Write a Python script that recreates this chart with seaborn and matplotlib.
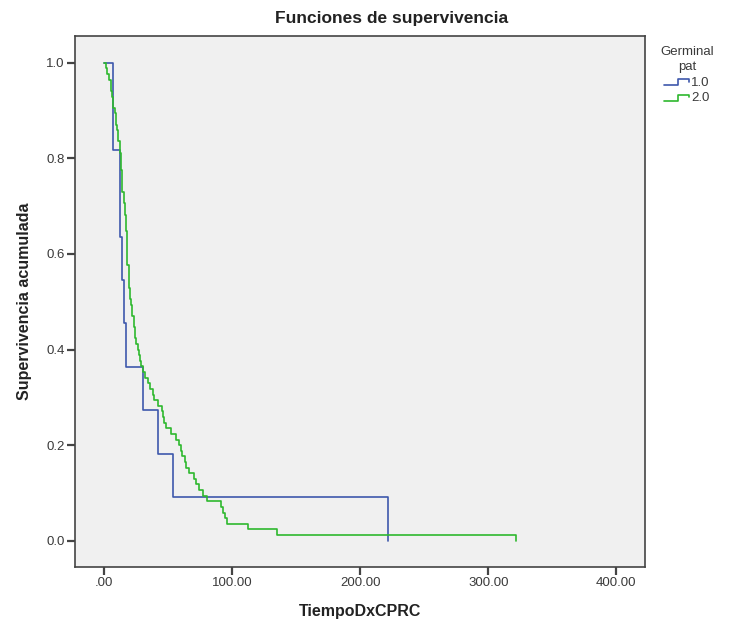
import numpy as np
import pandas as pd
import matplotlib
matplotlib.use("Agg")
import matplotlib.pyplot as plt
import seaborn as sns
from matplotlib.legend_handler import HandlerLine2D
from matplotlib.lines import Line2D

# ---------------- data ----------------
group_labels = ["1.0", "2.0"]
times_g1 = [7, 7, 12, 12, 14, 15, 17, 30, 42, 54, 222]
times_g2 = [1, 2, 4, 5, 5, 6, 7, 7, 8, 9, 9, 10, 11, 11, 12, 12, 13, 13, 13,
            14, 14, 14, 14, 15, 15, 16, 16, 17, 17, 17,
            18, 18, 18, 18, 18, 18, 19, 19, 19, 19, 20, 20, 21, 22, 22,
            23, 23, 24, 24, 25, 26, 27, 28, 29, 30, 32, 34, 36, 38, 39,
            42, 45, 46, 47, 48, 52, 56, 58, 60, 61, 63, 64, 66, 70, 72,
            74, 77, 80, 91, 93, 94, 96, 112, 135, 322]
line_colors = ["#3E58AC", "#2EB82E"]
x_ticks = [0, 100, 200, 300, 400]
x_tick_labels = [".00", "100.00", "200.00", "300.00", "400.00"]
y_ticks = [0.0, 0.2, 0.4, 0.6, 0.8, 1.0]
y_tick_labels = ["0.0", "0.2", "0.4", "0.6", "0.8", "1.0"]


def km_steps(times):
    t = np.sort(np.asarray(times, dtype=float))
    n = len(t)
    xs, ys = [0.0], [1.0]
    uniq, counts = np.unique(t, return_counts=True)
    at_risk, s = n, 1.0
    for u, c in zip(uniq, counts):
        s *= (at_risk - c) / at_risk
        at_risk -= c
        xs.append(u)
        ys.append(s)
    return xs, ys


frames = []
for lab, tt in zip(group_labels, [times_g1, times_g2]):
    xs, ys = km_steps(tt)
    frames.append(pd.DataFrame({"t": xs, "s": ys, "g": lab,
                                "order": range(len(xs))}))
df = pd.concat(frames, ignore_index=True)

# ---------------- styling ----------------
sns.set_style("ticks")
plt.rcParams["font.family"] = ["Liberation Sans", "DejaVu Sans"]

fig = plt.figure(figsize=(7.31, 6.30), dpi=100)
ax = fig.add_axes([75 / 731, 1 - 567 / 630, 570 / 731, 531 / 630])
ax.set_facecolor("#F0F0F0")

sns.lineplot(data=df, x="t", y="s", hue="g", hue_order=group_labels,
             palette=line_colors, estimator=None, sort=False,
             drawstyle="steps-post", linewidth=1.2, ax=ax, legend=False)

ax.set_xlim(-22.9, 422.4)
ax.set_ylim(-0.055, 1.056)
ax.set_xticks(x_ticks)
ax.set_xticklabels(x_tick_labels)
ax.set_yticks(y_ticks)
ax.set_yticklabels(y_tick_labels)
ax.tick_params(axis="both", direction="out", length=5.8, width=1.6,
               color="#444444", labelsize=9.5, labelcolor="#3a3a3a", pad=1.5)
for sp in ax.spines.values():
    sp.set_visible(True)
    sp.set_color("#444444")
    sp.set_linewidth(1.2)

ax.set_xlabel("TiempoDxCPRC", fontsize=11.5, fontweight="bold",
              color="#222222", labelpad=11)
ax.set_ylabel("Supervivencia acumulada", fontsize=11.5, fontweight="bold",
              color="#222222", labelpad=10)
fig.text(392 / 731, 1 - 18 / 630, "Funciones de supervivencia",
         ha="center", va="center", fontsize=12.5, fontweight="bold",
         color="#222222")


class StepHandler(HandlerLine2D):
    def create_artists(self, legend, orig_handle, xdescent, ydescent,
                       width, height, fontsize, trans):
        x0 = -xdescent
        x1 = x0 + width
        xm = x0 + width * 0.55
        ylo = -ydescent + height * 0.05
        yhi = -ydescent + height * 0.75
        ymid = -ydescent + height * 0.45
        ln = Line2D([x0, xm, xm, x1, x1], [ylo, ylo, yhi, yhi, ymid],
                    color=orig_handle.get_color(),
                    linewidth=orig_handle.get_linewidth())
        ln.set_transform(trans)
        return [ln]


handles = [Line2D([], [], color=c, linewidth=1.2) for c in line_colors]
leg = fig.legend(handles, group_labels, title="Germinal\npat",
                 loc="upper left", bbox_to_anchor=(651 / 731, 1 - 37 / 630),
                 frameon=False, fontsize=9.5, title_fontsize=9.5,
                 handlelength=1.9, handletextpad=0.15, labelspacing=0.25,
                 borderpad=0.2, handler_map={Line2D: StepHandler()})
leg.get_title().set_multialignment("center")
leg._legend_box.align = "center"
for t in leg.get_texts():
    t.set_color("#3a3a3a")
leg.get_title().set_color("#3a3a3a")
leg.get_title().set_linespacing(1.35)

fig.savefig("out.png", dpi=100)
